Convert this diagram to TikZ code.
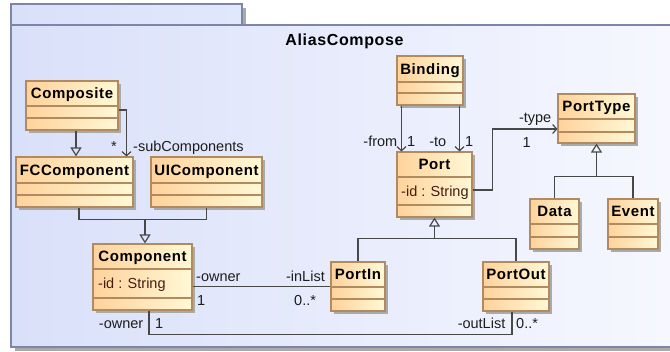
\documentclass[tikz,border=0pt]{standalone}
\usepackage{fontspec}
\setmainfont{Liberation Sans}[BoldFeatures={LetterSpace=4}]
\usetikzlibrary{arrows.meta}

\definecolor{bgL}{RGB}{217,224,249}
\definecolor{bgR}{RGB}{247,248,255}
\definecolor{bgM}{RGB}{226,232,251}
\definecolor{frameC}{RGB}{125,134,168}
\definecolor{boxL}{RGB}{255,210,155}
\definecolor{boxR}{RGB}{255,248,214}
\definecolor{boxC}{RGB}{178,138,96}
\definecolor{shadowC}{RGB}{170,170,170}
\definecolor{lineC}{RGB}{72,72,72}
\definecolor{attrC}{RGB}{70,28,18}
\definecolor{lblC}{RGB}{30,30,30}

\tikzset{
  clsbox/.style={draw=boxC, line width=1.1pt, left color=boxL, right color=boxR, inner sep=0pt, rectangle},
  clsline/.style={draw=boxC, line width=1.1pt},
  clsname/.style={font=\fontsize{15}{17}\selectfont\bfseries, inner sep=0pt, text=black, text height=10.7pt, text depth=0pt},
  attr/.style={font=\fontsize{14.5}{17}\selectfont, inner sep=0pt, text=attrC, anchor=west, text height=10.4pt, text depth=0pt},
  lbl/.style={font=\fontsize{14.5}{17}\selectfont, inner sep=0pt, text=lblC, text height=10.4pt, text depth=0pt},
  conn/.style={draw=lineC, line width=1.2pt},
  gen/.style={conn, -{Triangle[open, length=9pt, width=11pt]}},
  assoc/.style={conn, -{Straight Barb[length=4pt, width=9pt]}},
}

% #1 name, #2 x1, #3 y1, #4 x2, #5 y2, #6 first divider, #7 second divider, #8 title
\newcommand\umlcls[8]{%
  \fill[shadowC] ({(#2)+3},{(#3)+3}) rectangle ({(#4)+3},{(#5)+3});
  \node[clsbox, minimum width={(#4)-(#2)}, minimum height={(#5)-(#3)}] (#1) at ({((#2)+(#4))/2},{((#3)+(#5))/2}) {};
  \draw[clsline] (#2,#6) -- (#4,#6) (#2,#7) -- (#4,#7);
  \node[clsname] (#1-n) at ({((#2)+(#4))/2},{((#3)+(#6))/2}) {#8};
}

\begin{document}
\begin{tikzpicture}[x=1pt,y=-1pt]
\useasboundingbox (0,0) rectangle (670,352);
\clip (0,0) rectangle (670,352);
\fill[white] (0,0) rectangle (670,352);

% package frame
\fill[shadowC] (15,347) rectangle (680,351);
\fill[shadowC] (242,8) rectangle (245.5,25);
\path[left color=bgL, right color=bgM] (11,4) rectangle (242,25);
\draw[frameC, line width=1.3pt] (11,4) rectangle (242,25);
\path[left color=bgL, right color=bgR] (11,25) rectangle (690,347);
\draw[frameC, line width=1.3pt] (11,25) rectangle (690,347);
\node[font=\fontsize{16}{18}\selectfont\bfseries, inner sep=0pt, text height=11.4pt, text depth=0pt] (title) at (344.5,40) {AliasCompose};

% classes
\umlcls{composite}{26}{81}{118}{130}{106}{118}{Composite}
\umlcls{fccomp}{16}{157}{133}{207}{183}{195}{FCComponent}
\umlcls{uicomp}{151}{157}{262}{207}{183}{195}{UIComponent}
\umlcls{component}{93}{244}{192}{310}{269}{298}{Component}
\node[attr] (component-a) at (98,283.5) {-id : String};
\umlcls{portin}{331}{262}{385}{311}{287}{299}{PortIn}
\umlcls{portout}{483}{262}{549}{311}{287}{299}{PortOut}
\umlcls{binding}{397}{56}{463}{105}{82}{93}{Binding}
\umlcls{port}{397}{152}{472}{217}{177}{205}{Port}
\node[attr] (port-a) at (401,191) {-id : String};
\umlcls{porttype}{558}{94}{635}{143}{119}{132}{PortType}
\umlcls{data}{530}{199}{579}{249}{224}{237}{Data}
\umlcls{event}{608}{199}{658}{249}{224}{237}{Event}

% helper points
\path (component.north) ++(2.5,-24) coordinate (j1);
\path (component.south) ++(6.5,24) coordinate (j2);
\path (porttype.south) ++(0,33) coordinate (j3);
\path (port.south) ++(0,21) coordinate (j4);
\path (binding.south west) ++(5,0) coordinate (bL);
\path (binding.south east) ++(-4,0) coordinate (bR);
\path (port.east) ++(0,5.5) coordinate (pA);
\path (porttype.west) ++(0,10.5) coordinate (pB);
\path (composite.south) ++(4,0) coordinate (cS);
\path (composite.east) ++(0,4.5) coordinate (cE);
\path (fccomp.north east) ++(-7,0) coordinate (fN);
\path (fccomp.south) ++(4.5,0) coordinate (fS);
\path (portout.south) ++(-4,0) coordinate (poS);

% connectors
\draw[gen] (cS) -- (cS |- fccomp.north);
\draw[assoc] (cE) -| (fN);
\draw[conn] (fS) |- (j1) -| (uicomp.south);
\draw[gen] (j1) -- (j1 |- component.north);
\draw[conn] (component.east |- portin.west) -- (portin.west);
\draw[conn] (j2 |- component.south) -- (j2) -| (poS);
\draw[assoc] (bL) -- (bL |- port.north);
\draw[assoc] (bR) -- (bR |- port.north);
\draw[assoc] (pA) -- ++(20,0) |- (pB);
\draw[conn] (data.north) |- (j3) -| (event.north);
\draw[gen] (j3) -- (porttype.south);
\draw[conn] (portin.north) |- (j4) -| (portout.north);
\draw[gen] (j4) -- (port.south);

% labels
\node[lbl] (l1) at (114,146.5) {*};
\node[lbl, anchor=west] (l2) at (133,146.5) {-subComponents};
\node[lbl, anchor=west] (l3) at (196,276) {-owner};
\node[lbl, anchor=west] (l4) at (197,300) {1};
\node[lbl, anchor=east] (l5) at (325,276.5) {-inList};
\node[lbl, anchor=west] (l6) at (294,300) {0..*};
\node[lbl, anchor=east] (l7) at (143.5,323) {-owner};
\node[lbl, anchor=west] (l8) at (155,323) {1};
\node[lbl, anchor=east] (l9) at (505.5,323.5) {-outList};
\node[lbl, anchor=west] (l10) at (516,323.5) {0..*};
\node[lbl, anchor=east] (l11) at (397.5,141) {-from};
\node[lbl, anchor=west] (l12) at (407,141) {1};
\node[lbl, anchor=east] (l13) at (446.5,141) {-to};
\node[lbl, anchor=west] (l14) at (465,141) {1};
\node[lbl, anchor=east] (l15) at (551.5,117) {-type};
\node[lbl, anchor=west] (l16) at (522.5,142) {1};
\end{tikzpicture}
\end{document}
